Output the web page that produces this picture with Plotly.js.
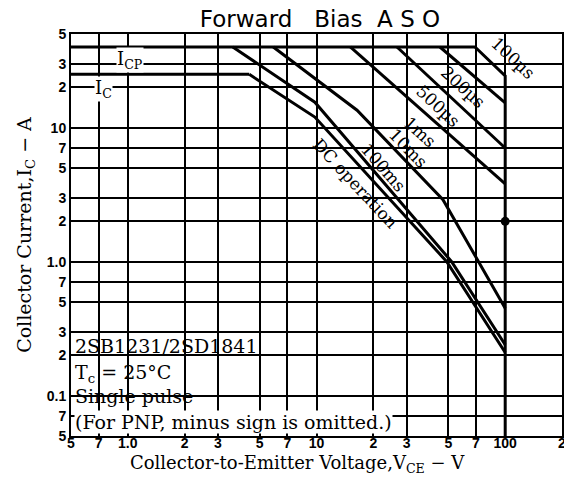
<!DOCTYPE html>
<html><head><meta charset="utf-8">
<script src="https://cdn.plot.ly/plotly-3.0.1.min.js"></script>
<style>html,body{margin:0;padding:0;background:#fff}</style>
</head><body><div id="chart" style="width:564px;height:484px"></div>
<script>
// ---- data ----
const xTickVals = [0.5, 0.7, 1, 2, 3, 5, 7, 10, 20, 30, 50, 70, 100, 200];
const xTickText = ['5', '7', '1.0', '2', '3', '5', '7', '10', '2', '3', '5', '7', '100', '2'];
const yTickVals = [0.05, 0.07, 0.1, 0.2, 0.3, 0.5, 0.7, 1, 2, 3, 5, 7, 10, 20, 30, 50];
const yTickText = ['5', '7', '0.1', '2', '3', '5', '7', '1.0', '2', '3', '5', '7', '10', '2', '3', '5'];

const icpV = [0.5, 69.2];          const icpA = [40, 40];
const icV = [0.5, 4.4];            const icA = [25, 25];
const us100V = [69.2, 100, 100];   const us100A = [40, 24.3, 0.05];
const us200V = [45.1, 100];        const us200A = [40, 15.3];
const us500V = [26.7, 100];        const us500A = [40, 7.05];
const ms1V = [15.1, 100];          const ms1A = [40, 3.8];
const ms10V = [5.9, 16.4, 46.8, 100];  const ms10A = [40, 13.5, 2.9, 0.45];
const ms100V = [3.6, 9.8, 52, 100];    const ms100A = [40, 15.5, 1.0, 0.24];
const dcV = [4.4, 9.8, 49, 100];       const dcA = [25, 12, 1.0, 0.21];
const dotV = [100];                    const dotA = [2];

const curveNames = ['100µs', '200µs', '500µs', '1ms', '10ms', '100ms', 'DC operation'];

// ---- layout helpers (pixel -> paper) ----
const L = 71, R = 562, T = 34, B = 436;
const px = x => (x - L) / (R - L);
const py = y => (B - y) / (B - T);

const serif = 'DejaVu Serif';
const lineStyle = {color: '#000', width: 3};
const series = [
  [icpV, icpA], [icV, icA], [us100V, us100A], [us200V, us200A], [us500V, us500A],
  [ms1V, ms1A], [ms10V, ms10A], [ms100V, ms100A], [dcV, dcA]
];
const traces = series.map(s => ({x: s[0], y: s[1], type: 'scatter', mode: 'lines',
  line: lineStyle, hoverinfo: 'skip'}));
traces.push({x: dotV, y: dotA, type: 'scatter', mode: 'markers',
  marker: {color: '#000', size: 9}, hoverinfo: 'skip'});

const labelPos = [[513, 58, 43], [463, 87, 42], [438, 106, 43], [420, 132, 42],
  [408, 148, 46], [383, 167, 49], [355, 183, 47]];
const annotations = curveNames.map((t, i) => ({
  text: t, xref: 'paper', yref: 'paper', x: px(labelPos[i][0]), y: py(labelPos[i][1]),
  xanchor: 'center', yanchor: 'middle', textangle: labelPos[i][2], showarrow: false,
  font: {family: serif, size: 17, color: '#000'}
}));
annotations.push(
  {text: 'I<sub>CP</sub>', xref: 'paper', yref: 'paper', x: px(130), y: py(60), xanchor: 'center',
   yanchor: 'middle', showarrow: false, bgcolor: '#fff', borderpad: 0,
   font: {family: serif, size: 18, color: '#000'}},
  {text: 'I<sub>C</sub>', xref: 'paper', yref: 'paper', x: px(103), y: py(89), xanchor: 'center',
   yanchor: 'middle', showarrow: false, bgcolor: '#fff', borderpad: 0,
   font: {family: serif, size: 18, color: '#000'}},
  {text: 'Collector-to-Emitter Voltage,V<sub>CE</sub> − V', xref: 'paper', yref: 'paper',
   x: px(297), y: py(464), xanchor: 'center', yanchor: 'middle', showarrow: false,
   font: {family: serif, size: 18, color: '#000'}}
);
const boxLines = ['2SB1231/2SD1841', 'T<sub>c</sub> = 25°C', 'Single pulse',
  '(For PNP, minus sign is omitted.)'];
const boxY = [346, 373, 396, 422];
boxLines.forEach((t, i) => annotations.push({
  text: t, xref: 'paper', yref: 'paper', x: px(74), y: py(boxY[i]), xanchor: 'left',
  yanchor: 'middle', showarrow: false, bgcolor: i === 3 ? '#fff' : 'rgba(0,0,0,0)', borderpad: 0,
  font: {family: serif, size: 19, color: '#000'}
}));

const axisCommon = {
  type: 'log', showgrid: true, gridcolor: '#000', gridwidth: 2, zeroline: false,
  showline: true, linecolor: '#000', linewidth: 2, mirror: true, ticks: '',
  tickfont: {family: 'Liberation Sans', size: 14, color: '#000', weight: 'bold'}, fixedrange: true
};

const layout = {
  width: 564, height: 484,
  margin: {l: L, r: 564 - R, t: T, b: 484 - B, pad: 0},
  paper_bgcolor: '#fff', plot_bgcolor: '#fff', showlegend: false,
  title: {text: 'Forward\u00A0\u00A0\u00A0Bias\u00A0\u00A0A\u00A0S\u00A0O', x: 320 / 564, xanchor: 'center',
          y: 1 - 19 / 484, yanchor: 'middle',
          font: {family: 'DejaVu Sans', size: 23, color: '#000'}},
  xaxis: Object.assign({}, axisCommon, {
    range: [Math.log10(0.5), Math.log10(200)], tickvals: xTickVals, ticktext: xTickText,
    tickangle: 0, ticklabelstandoff: -7, ticklabeloverflow: 'allow'
  }),
  yaxis: Object.assign({}, axisCommon, {
    range: [Math.log10(0.05), Math.log10(50)], tickvals: yTickVals, ticktext: yTickText,
    title: {text: 'Collector Current,I<sub>C</sub> − A', standoff: 10,
            font: {family: serif, size: 19, color: '#000'}}
  }),
  shapes: [{type: 'rect', xref: 'paper', yref: 'paper', x0: 0, x1: px(313), y0: 0, y1: py(331.5),
            fillcolor: '#fff', line: {width: 0}, layer: 'between'}],
  annotations: annotations
};

Plotly.newPlot('chart', traces, layout, {staticPlot: true, displayModeBar: false});
</script></body></html>
